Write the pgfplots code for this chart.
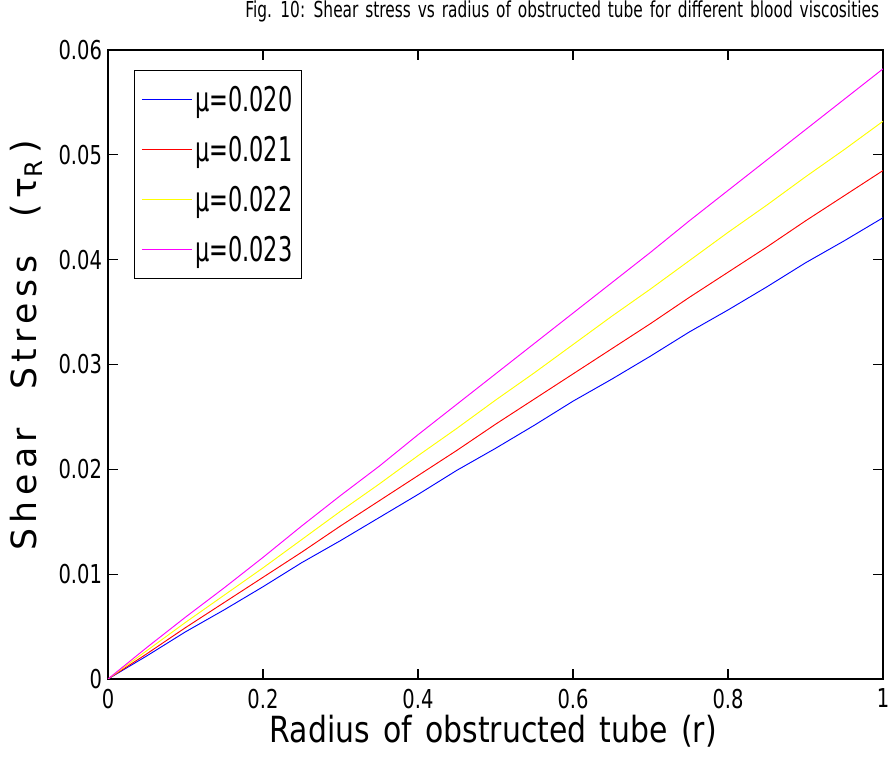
\documentclass[border=0pt]{standalone}
\usepackage{fontspec}
\usepackage{graphicx}
\usepackage{pgfplots}
\pgfplotsset{compat=1.18}
\setmainfont{DejaVu Sans}
\newfontfamily\xlabf[WordSpace=1.6]{DejaVu Sans}
\newfontfamily\titf[WordSpace=1.4]{DejaVu Sans}
\newfontfamily\ylabf[LetterSpace=16]{DejaVu Sans}
\newcommand\sx[2]{\scalebox{#1}[1]{#2}}
\definecolor{mblue}{RGB}{0,0,255}
\definecolor{mred}{RGB}{255,0,0}
\definecolor{myellow}{RGB}{255,255,0}
\definecolor{mmagenta}{RGB}{255,0,255}
\begin{document}
\begin{tikzpicture}
\begin{axis}[
  scale only axis,
  width=581.25pt, height=471.75pt,
  xmin=0, xmax=1, ymin=0, ymax=0.06,
  xtick={0,0.2,0.4,0.6,0.8,1},
  ytick={0,0.01,0.02,0.03,0.04,0.05,0.06},
  xticklabels={\sx{0.75}{0},\sx{0.75}{0.2},\sx{0.75}{0.4},\sx{0.75}{0.6},\sx{0.75}{0.8},\sx{0.75}{1}},
  yticklabels={\sx{0.75}{0},\sx{0.75}{0.01},\sx{0.75}{0.02},\sx{0.75}{0.03},\sx{0.75}{0.04},\sx{0.75}{0.05},\sx{0.75}{0.06}},
  scaled y ticks=false, scaled x ticks=false,
  tick align=inside,
  major tick length=7.5pt,
  tick style={line width=0.9pt, black},
  axis line style={line width=1.5pt},
  ticklabel style={font=\fontsize{19.5}{22}\selectfont},
  xticklabel style={yshift=-4pt},
  yticklabel style={xshift=-1pt},
  xlabel={\sx{0.83}{Radius of obstructed tube (r)}},
  xlabel style={font=\xlabf\fontsize{27}{30}\selectfont, at={(axis description cs:0.497,0)}, anchor=base, yshift=-48pt},
  ylabel={Shear\hspace{1.1em}Stress\hspace{1.1em}(\,τ\textsubscript{R}\,)},
  ylabel style={font=\ylabf\fontsize{26}{29}\selectfont, at={(axis description cs:-0.105,0.53)}, anchor=center, rotate=0},
  title={\sx{0.70}{Fig. 10: Shear stress vs radius of obstructed tube for different blood viscosities}},
  title style={font=\titf\fontsize{16.5}{18}\selectfont, at={(axis description cs:0.586,1)}, anchor=base, yshift=18pt},
  legend style={at={(axis description cs:0.0335,0.968)}, anchor=north west,
    line width=1pt, inner xsep=5pt, inner ysep=9.5pt,
    font=\fontsize{25.5}{28}\selectfont,
    row sep=13pt,
    /tikz/every even column/.style={column sep=0pt}},
  legend cell align=left,
  every axis plot/.append style={line width=0.7pt},
]
\addlegendimage{draw=mblue, line width=0.9pt, legend image code/.code={\draw[mblue, line width=0.9pt] (0pt,0pt) -- (37.5pt,0pt);}}
\addlegendentry{\sx{0.66}{μ=0.020}}
\addlegendimage{draw=mred, line width=0.9pt, legend image code/.code={\draw[mred, line width=0.9pt] (0pt,0pt) -- (37.5pt,0pt);}}
\addlegendentry{\sx{0.66}{μ=0.021}}
\addlegendimage{draw=myellow, line width=0.9pt, legend image code/.code={\draw[myellow, line width=0.9pt] (0pt,0pt) -- (37.5pt,0pt);}}
\addlegendentry{\sx{0.66}{μ=0.022}}
\addlegendimage{draw=mmagenta, line width=0.9pt, legend image code/.code={\draw[mmagenta, line width=0.9pt] (0pt,0pt) -- (37.5pt,0pt);}}
\addlegendentry{\sx{0.66}{μ=0.023}}
\addplot[draw=mblue, forget plot] coordinates {
(0,0) (0.05,0.0022) (0.1,0.0045) (0.15,0.0066) (0.2,0.0088) (0.25,0.0111) (0.3,0.0132) (0.35,0.0154) (0.4,0.0176) (0.45,0.0199) (0.5,0.0220)
(0.55,0.0242) (0.6,0.0265) (0.65,0.0286) (0.7,0.0308) (0.75,0.0331) (0.8,0.0352) (0.85,0.0374) (0.9,0.0397) (0.95,0.0418) (1,0.0440)};
\addplot[draw=mred, forget plot] coordinates {
(0,0) (0.05,0.0024) (0.1,0.0049) (0.15,0.0073) (0.2,0.0097) (0.25,0.0121) (0.3,0.0146) (0.35,0.0170) (0.4,0.0194) (0.45,0.0218) (0.5,0.0243)
(0.55,0.0267) (0.6,0.0291) (0.65,0.0315) (0.7,0.0339) (0.75,0.0364) (0.8,0.0388) (0.85,0.0412) (0.9,0.0437) (0.95,0.0461) (1,0.0485)};
\addplot[draw=myellow, forget plot] coordinates {
(0,0) (0.05,0.0027) (0.1,0.0054) (0.15,0.0080) (0.2,0.0106) (0.25,0.0133) (0.3,0.0160) (0.35,0.0186) (0.4,0.0213) (0.45,0.0239) (0.5,0.0266)
(0.55,0.0292) (0.6,0.0319) (0.65,0.0346) (0.7,0.0372) (0.75,0.0399) (0.8,0.0426) (0.85,0.0452) (0.9,0.0479) (0.95,0.0505) (1,0.0532)};
\addplot[draw=mmagenta, forget plot] coordinates {
(0,0) (0.05,0.0030) (0.1,0.0059) (0.15,0.0087) (0.2,0.0116) (0.25,0.0146) (0.3,0.0175) (0.35,0.0203) (0.4,0.0233) (0.45,0.0262) (0.5,0.0291)
(0.55,0.0320) (0.6,0.0349) (0.65,0.0378) (0.7,0.0407) (0.75,0.0437) (0.8,0.0466) (0.85,0.0495) (0.9,0.0524) (0.95,0.0553) (1,0.0582)};
\end{axis}
\pgfresetboundingbox
\path (-81pt,-65.25pt) rectangle (587.25pt,509.25pt);
\end{tikzpicture}
\end{document}
